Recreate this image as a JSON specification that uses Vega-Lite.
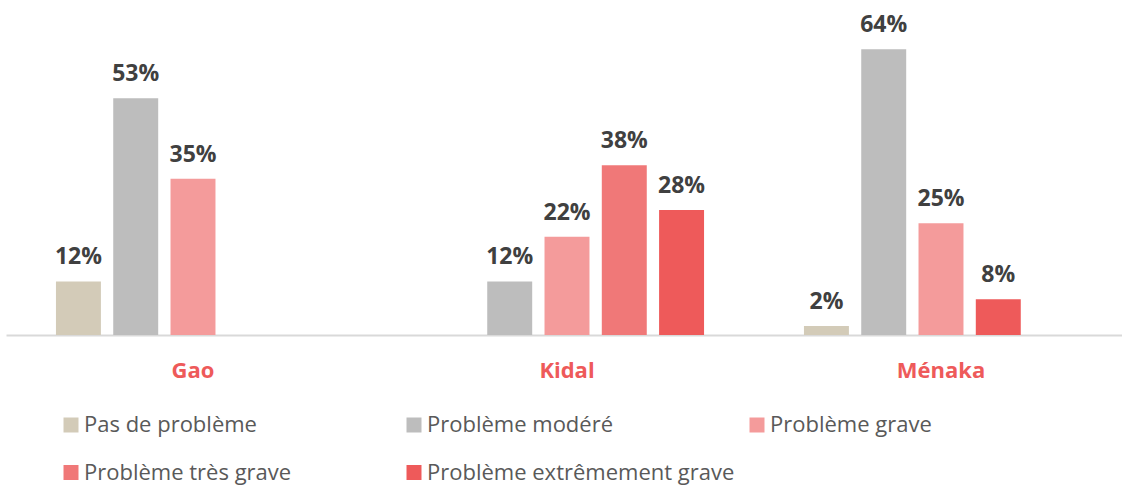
{
  "$schema": "https://vega.github.io/schema/vega-lite/v6.json",
  "width": 1116,
  "height": 335,
  "autosize": {"type": "none"},
  "padding": {"left": 6, "top": 0, "right": 0, "bottom": 150},
  "background": "white",
  "config": {
    "view": {"stroke": null},
    "font": "Open Sans"
  },
  "data": {
    "values": [
      {"region": "Gao", "serie": "S1", "niveau": "Pas de problème", "pct": 0.12},
      {"region": "Gao", "serie": "S2", "niveau": "Problème modéré", "pct": 0.53},
      {"region": "Gao", "serie": "S3", "niveau": "Problème grave", "pct": 0.35},
      {"region": "Kidal", "serie": "S2", "niveau": "Problème modéré", "pct": 0.12},
      {"region": "Kidal", "serie": "S3", "niveau": "Problème grave", "pct": 0.22},
      {"region": "Kidal", "serie": "S4", "niveau": "Problème très grave", "pct": 0.38},
      {"region": "Kidal", "serie": "S5", "niveau": "Problème extrêmement grave", "pct": 0.28},
      {"region": "Ménaka", "serie": "S1", "niveau": "Pas de problème", "pct": 0.02},
      {"region": "Ménaka", "serie": "S2", "niveau": "Problème modéré", "pct": 0.64},
      {"region": "Ménaka", "serie": "S3", "niveau": "Problème grave", "pct": 0.25},
      {"region": "Ménaka", "serie": "S4", "niveau": "Problème extrêmement grave", "pct": 0.08}
    ]
  },
  "encoding": {
    "x": {
      "field": "region",
      "type": "nominal",
      "sort": ["Gao", "Kidal", "Ménaka"],
      "scale": {"range": [0, 1122], "paddingInner": 0, "paddingOuter": 0},
      "axis": {
        "title": null,
        "orient": "bottom",
        "labelAngle": 0,
        "ticks": false,
        "tickSize": 0,
        "labelPadding": 25,
        "labelFont": "Open Sans",
        "labelFontSize": 22,
        "labelFontWeight": "bold",
        "labelColor": "#EE5A5A",
        "domainColor": "#D9D9D9",
        "domainWidth": 2,
        "grid": false
      }
    },
    "xOffset": {
      "field": "serie",
      "type": "nominal",
      "sort": ["S1", "S2", "S3", "S4", "S5"],
      "scale": {"domain": ["S1", "S2", "S3", "S4", "S5"], "paddingInner": 0.215, "paddingOuter": 0.872}
    },
    "y": {
      "field": "pct",
      "type": "quantitative",
      "scale": {"domain": [0, 0.75], "nice": false},
      "axis": null
    }
  },
  "layer": [
    {
      "mark": {"type": "bar", "strokeWidth": 0},
      "encoding": {
        "color": {
          "field": "niveau",
          "type": "nominal",
          "scale": {
            "domain": ["Pas de problème", "Problème modéré", "Problème grave", "Problème très grave", "Problème extrêmement grave"],
            "range": ["#D3CBB8", "#BDBDBD", "#F49B9B", "#F07878", "#EE5A5A"]
          },
          "legend": {
            "title": null,
            "orient": "none",
            "legendX": 54,
            "legendY": 414,
            "direction": "horizontal",
            "columns": 3,
            "gridAlign": "all",
            "symbolType": "square",
            "symbolSize": 225,
            "symbolStrokeWidth": 0,
            "labelFont": "Open Sans",
            "labelFontSize": 22,
            "labelColor": "#595959",
            "labelOffset": 2,
            "labelLimit": 500,
            "rowPadding": 25.5,
            "columnPadding": 11,
            "padding": 0
          }
        }
      }
    },
    {
      "mark": {
        "type": "text",
        "baseline": "alphabetic",
        "align": "center",
        "dy": -17,
        "font": "Open Sans",
        "fontSize": 23,
        "fontWeight": "bold",
        "color": "#404040"
      },
      "encoding": {
        "text": {"field": "pct", "type": "quantitative", "format": ".0%"}
      }
    }
  ]
}
